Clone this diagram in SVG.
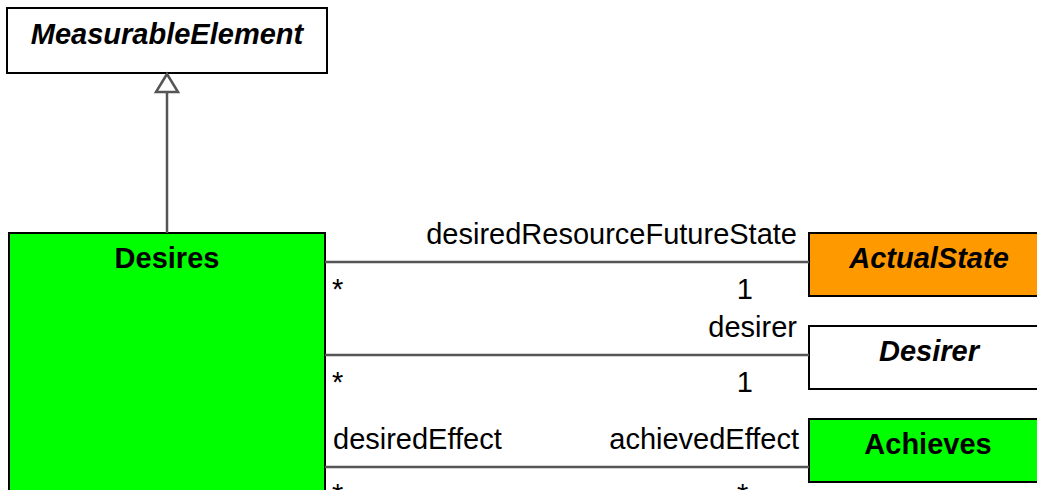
<svg xmlns="http://www.w3.org/2000/svg" width="1037" height="490" viewBox="0 0 1037 490">
<style>
.box{stroke:#000;stroke-width:2}
.title{font-family:"Liberation Sans",Arial,sans-serif;font-size:29px;font-weight:bold;text-anchor:middle;fill:#000}
.it{font-style:italic}
.lbl{font-family:"Liberation Sans",Arial,sans-serif;font-size:29px;fill:#000}
.end{text-anchor:end}
.conn{stroke:#555;stroke-width:2.5;fill:none}
</style>
<rect width="1037" height="490" fill="#fff"/>
<g id="MeasurableElement">
<rect class="box" x="7" y="8" width="320" height="65" fill="#fff"/>
<text class="title it" x="167" y="44">MeasurableElement</text>
</g>
<g id="Desires">
<rect class="box" x="9" y="233" width="316" height="280" fill="#00ff00"/>
<text class="title" x="167" y="268">Desires</text>
</g>
<g id="ActualState">
<rect class="box" x="809" y="233" width="240" height="63" fill="#ff9900"/>
<text class="title it" x="929" y="268">ActualState</text>
</g>
<g id="Desirer">
<rect class="box" x="809" y="326" width="240" height="63" fill="#fff"/>
<text class="title it" x="929" y="361">Desirer</text>
</g>
<g id="Achieves">
<rect class="box" x="809" y="419" width="240" height="63" fill="#00ff00"/>
<text class="title" x="928" y="454">Achieves</text>
</g>
<g id="connectors">
<line class="conn" x1="167" y1="233" x2="167" y2="92"/>
<polygon points="167,74 156,92 178,92" fill="#fff" stroke="#555" stroke-width="2.5"/>
<line class="conn" x1="325" y1="262" x2="809" y2="262"/>
<line class="conn" x1="325" y1="355" x2="809" y2="355"/>
<line class="conn" x1="325" y1="467" x2="809" y2="467"/>
<text class="lbl end" x="797" y="244">desiredResourceFutureState</text>
<text class="lbl" x="332" y="299">*</text>
<text class="lbl end" x="753" y="299">1</text>
<text class="lbl end" x="797" y="337">desirer</text>
<text class="lbl" x="332" y="392">*</text>
<text class="lbl end" x="753" y="392">1</text>
<text class="lbl" x="333" y="449">desiredEffect</text>
<text class="lbl end" x="799" y="449">achievedEffect</text>
<text class="lbl" x="332" y="504">*</text>
<text class="lbl" x="737" y="504">*</text>
</g>
</svg>
